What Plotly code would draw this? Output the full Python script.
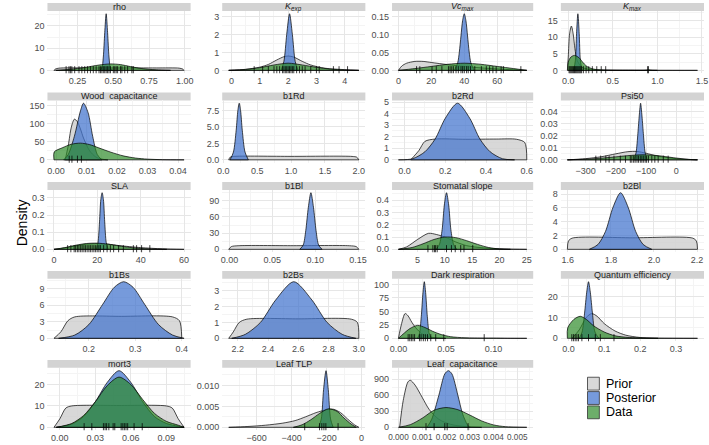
import plotly.graph_objects as go

# ---------------- data ----------------
TITLES = ["rho", "<i>K<sub>exp</sub></i>", "<i>Vc<sub>max</sub></i>", "<i>K<sub>max</sub></i>",
          "Wood  capacitance", "b1Rd", "b2Rd", "Psi50",
          "SLA", "b1Bl", "Stomatal slope", "b2Bl",
          "b1Bs", "b2Bs", "Dark respiration", "Quantum efficiency",
          "mort3", "Leaf TLP", "Leaf  capacitance"]

rho_prior = [(0.085,0),(0.095,0.6),(0.12,1.0),(0.3,1.1),(0.55,1.1),(0.8,1.1),(0.96,1.0),(0.985,0.6),(0.995,0)]
rho_post = [(0.405,0),(0.42,1),(0.43,6),(0.44,17),(0.45,25.5),(0.46,17),(0.47,6),(0.48,1),(0.495,0)]
rho_data = [(0.1,0),(0.2,0.5),(0.3,1.3),(0.4,2.4),(0.48,2.9),(0.55,2.6),(0.62,1.7),(0.7,0.8),(0.8,0.25),(0.9,0)]
rho_rug = [0.17,0.19,0.2,0.21,0.23,0.26,0.28,0.3,0.32,0.34,0.36,0.38,0.4,0.41,0.42,0.43,0.44,0.45,0.46,
           0.47,0.48,0.5,0.51,0.52,0.53,0.55,0.56,0.58,0.6,0.63,0.64]

kexp_prior = [(-0.1,0),(0.5,0.06),(1.0,0.18),(1.3,0.33),(1.6,0.58),(1.85,0.76),(2.0,0.8),(2.2,0.74),(2.5,0.5),
              (2.8,0.3),(3.3,0.12),(4.0,0.04),(4.5,0)]
kexp_post = [(1.75,0),(1.85,0.5),(1.95,2.0),(2.05,3.15),(2.15,2.0),(2.25,0.5),(2.35,0)]
kexp_data = [(-0.1,0),(0.5,0.05),(1.0,0.15),(1.5,0.3),(2.0,0.4),(2.5,0.3),(3.0,0.17),(3.5,0.07),(4.0,0.02),(4.5,0)]
kexp_rug = [0.8,1.1,1.3,1.5,1.6,1.7,1.8,1.85,1.9,1.95,2.0,2.05,2.1,2.15,2.2,2.3,2.4,2.5,2.6,2.8,3.0,3.1,3.6,3.8,4.1]

vc_prior = [(0,0),(2,0.012),(5,0.02),(10,0.025),(15,0.025),(20,0.022),(30,0.016),(40,0.011),(50,0.007),
            (60,0.004),(70,0.0015),(78,0)]
vc_post = [(34,0),(36,0.021),(37,0.051),(38,0.096),(39,0.139),(40,0.158),(41,0.139),(42,0.096),(43,0.051),
           (44,0.021),(46,0)]
vc_data = [(0,0),(10,0.005),(20,0.011),(30,0.017),(40,0.02),(50,0.017),(60,0.011),(70,0.005),(78,0)]
vc_rug = [11,13,20.4,23,26.4,30.4,31.4,32.4,33.4,35,36.4,38,39,40,41.4,42.4,43.8,46.4,50.4,53.4,55.4,57.4,
          59.4,62.4,63.8,74.4]

kmax_prior = [(-0.01,0),(0.0,4),(0.015,11),(0.035,13.3),(0.055,11),(0.075,6.5),(0.1,3),(0.15,1),(0.25,0.25),
              (0.5,0.06),(1.0,0.015),(1.45,0)]
kmax_post = [(0.06,0),(0.08,3),(0.093,11),(0.108,17),(0.123,11),(0.136,3),(0.156,0)]
kmax_data = [(-0.005,0),(0.0,2.5),(0.03,4.0),(0.07,4.5),(0.12,3.8),(0.17,2.2),(0.22,1.0),(0.3,0.3),(0.45,0.05),
             (0.7,0.02),(0.86,0.03),(0.9,0.15),(0.94,0.03),(1.0,0)]
kmax_rug = [0.01,0.02,0.03,0.04,0.05,0.06,0.07,0.08,0.09,0.1,0.11,0.12,0.13,0.14,0.15,0.17,0.2,0.23,0.27,
            0.32,0.37,0.42,0.89,0.9]

wood_prior = [(0.003,0),(0.004,40),(0.005,90),(0.006,112),(0.007,105),(0.008,85),(0.009,60),(0.011,25),
              (0.013,8),(0.015,2),(0.017,0)]
wood_post = [(0.0025,0),(0.004,15),(0.006,65),(0.008,135),(0.009,156),(0.0105,130),(0.012,65),(0.0135,15),(0.015,0)]
wood_data = [(-0.0007,0),(-0.0006,22),(0.002,33),(0.005,43),(0.008,46),(0.011,42),(0.014,33),(0.018,21),
             (0.022,11),(0.026,5),(0.03,2),(0.035,0.5),(0.042,0)]
wood_rug = [0.0043,0.0052,0.0070,0.0083]

b1rd_prior = [(0.08,0),(0.1,0.4),(0.15,0.52),(1.0,0.53),(1.9,0.52),(1.97,0.4),(2.0,0)]
b1rd_post = [(0.1,0),(0.15,1.2),(0.19,4.5),(0.215,7.5),(0.235,8.6),(0.255,7.5),(0.28,4.5),(0.32,1.2),(0.37,0)]

b2rd_prior = [(0.03,0),(0.07,0.8),(0.1,1.6),(0.15,1.8),(0.3,1.78),(0.45,1.8),(0.55,1.78),(0.59,1.5),(0.6,0)]
b2rd_post = [(-0.03,0),(0.04,0.1),(0.1,0.7),(0.15,1.8),(0.2,3.6),(0.26,4.9),(0.32,3.6),(0.37,1.8),(0.42,0.7),
             (0.48,0.1),(0.54,0)]

psi_prior = [(-360,0),(-300,0.001),(-250,0.0025),(-200,0.005),(-160,0.0068),(-130,0.007),(-100,0.0055),
             (-60,0.003),(0,0.001),(70,0)]
psi_post = [(-140,0),(-133,0.006),(-127,0.022),(-122,0.038),(-118,0.047),(-114,0.038),(-109,0.022),(-103,0.006),(-96,0)]
psi_data = [(-360,0),(-280,0.0008),(-220,0.002),(-160,0.0035),(-110,0.0042),(-60,0.0035),(-10,0.0018),(40,0.0004),(70,0)]
psi_rug = [-266,-250,-233,-222,-206,-185,-168,-152,-147,-141,-136,-130,-125,-119,-114,-109,-103,-98,-92,
           -81,-71,-60,-43,-27]

sla_prior = [(0,0),(5,0.008),(10,0.02),(15,0.03),(20,0.033),(25,0.03),(30,0.022),(40,0.01),(50,0.003),(60,0)]
sla_post = [(19.5,0),(20.3,0.04),(21,0.16),(21.6,0.29),(22.2,0.33),(22.8,0.29),(23.4,0.16),(24.1,0.04),(25,0)]
sla_data = [(0,0),(5,0.01),(10,0.024),(15,0.034),(20,0.036),(25,0.03),(30,0.02),(35,0.011),(40,0.005),(47,0.001),(52,0)]
sla_rug = [6.3,7.8,9.3,10,10.8,11.5,12.3,13,13.8,14.5,15.3,16.1,16.8,17.6,18.4,19.1,19.9,20.7,21.4,22.9,
           24.5,26,27.5,29.8,32,36.6,38.1,40.4,44.2]

b1bl_prior = [(-0.001,0),(0.002,5),(0.01,6.7),(0.075,6.8),(0.14,6.7),(0.148,5),(0.151,0)]
b1bl_post = [(0.082,0),(0.086,8),(0.089,35),(0.092,78),(0.095,105),(0.098,78),(0.101,35),(0.104,8),(0.108,0)]

ss_prior = [(1.5,0),(3,0.02),(5,0.08),(7,0.13),(8.5,0.12),(10,0.1),(12,0.06),(14,0.03),(17,0.012),(21,0.003),(25,0)]
ss_post = [(8.4,0),(9.0,0.04),(9.5,0.16),(9.9,0.36),(10.3,0.46),(10.7,0.36),(11.1,0.16),(11.6,0.04),(12.2,0)]
ss_data = [(1.5,0),(4,0.015),(6,0.045),(8,0.08),(10,0.1),(12,0.095),(14,0.07),(16,0.04),(18,0.015),(20,0.003),(22,0)]
ss_rug = [6.9,7.8,8.1,8.3,8.6,10.3,11.2,11.9,12.9,13.5,15.1]

b2bl_prior = [(1.598,0),(1.603,1.2),(1.62,1.62),(1.9,1.67),(2.18,1.62),(2.197,1.2),(2.202,0)]
b2bl_post = [(1.7,0),(1.74,0.7),(1.775,2.6),(1.81,6.1),(1.845,8.2),(1.88,6.1),(1.915,2.6),(1.95,0.7),(1.99,0)]

b1bs_prior = [(0.125,0),(0.14,1.2),(0.155,3.2),(0.17,3.9),(0.27,4.0),(0.38,3.9),(0.395,3.2),(0.4,0)]
b1bs_post = [(0.135,0),(0.17,0.6),(0.2,2.5),(0.23,6.2),(0.255,9.3),(0.275,10.3),(0.295,9.3),(0.32,6.2),
             (0.35,2.5),(0.38,0.6),(0.405,0)]

b2bs_prior = [(2.14,0),(2.17,0.4),(2.21,1.0),(2.26,1.2),(2.6,1.22),(2.95,1.2),(2.99,1.0),(3.0,0)]
b2bs_post = [(2.16,0),(2.25,0.25),(2.35,1.0),(2.45,2.4),(2.57,3.55),(2.69,2.4),(2.79,1.0),(2.89,0.25),(2.98,0)]

dr_prior = [(0.0,0),(0.003,25),(0.007,46),(0.01,42),(0.014,30),(0.018,20),(0.025,8),(0.035,2),(0.05,0)]
dr_post = [(0.02,0),(0.022,8),(0.024,40),(0.0258,85),(0.0272,105),(0.0286,85),(0.0304,40),(0.0325,8),(0.035,0)]
dr_data = [(0.0,0),(0.005,8),(0.012,18),(0.02,24),(0.028,20),(0.036,13),(0.045,7),(0.055,3),(0.07,1),
           (0.09,0.4),(0.1,0.4),(0.115,0.1),(0.135,0)]
dr_rug = [0.0102,0.0119,0.0136,0.0153,0.017,0.0221,0.0238,0.0262,0.0283,0.0306,0.034,0.0392,0.0477,0.0902]

qe_prior = [(0.01,0),(0.03,4),(0.05,10),(0.065,11.8),(0.08,10.5),(0.1,7),(0.13,3.5),(0.16,1.5),(0.2,0.4),(0.25,0)]
qe_post = [(0.03,0),(0.038,3),(0.045,12),(0.051,22),(0.056,27),(0.061,22),(0.067,12),(0.074,3),(0.085,0)]
qe_data = [(-0.003,0),(-0.002,5),(0.015,9),(0.033,10.5),(0.05,9),(0.07,6),(0.1,3),(0.13,1.2),(0.17,0.4),
           (0.25,0.1),(0.36,0)]
qe_rug = [0.0094,0.014,0.0188,0.0235,0.028,0.0375,0.056,0.075,0.089,0.127]

m3_prior = [(-0.005,0),(0.0,4),(0.005,9),(0.01,10),(0.05,10.2),(0.09,10),(0.095,9),(0.1,4),(0.105,0)]
m3_post = [(-0.003,0),(0.01,1.5),(0.02,5),(0.03,12),(0.04,21),(0.05,26.5),(0.06,21),(0.07,12),(0.08,5),
           (0.09,1.8),(0.1,0.5),(0.105,0)]
m3_data = [(-0.003,0),(0.01,1.8),(0.02,5.5),(0.03,12),(0.04,19.5),(0.05,23.5),(0.06,20),(0.07,13),(0.08,6.5),
           (0.09,2.8),(0.1,1),(0.105,0)]
m3_rug = [0.0205,0.027,0.0368,0.0382,0.0395,0.0414,0.045,0.0464,0.0518,0.0532,0.0545,0.0559,0.0573,0.0627,0.0696]

tlp_prior = [(-760,0),(-650,0.0002),(-550,0.0005),(-450,0.001),(-380,0.0016),(-320,0.0025),(-260,0.0035),
             (-200,0.0042),(-160,0.0043),(-120,0.0035),(-80,0.002),(-40,0.0006),(-15,0)]
tlp_post = [(-245,0),(-230,0.002),(-217,0.009),(-203,0.0135),(-190,0.009),(-177,0.002),(-162,0)]
tlp_data = [(-390,0),(-340,0.0006),(-290,0.0018),(-240,0.0033),(-190,0.0044),(-140,0.0038),(-100,0.0022),
            (-60,0.0008),(-30,0)]
tlp_rug = [-325,-240,-227,-215,-204,-134]

lc_prior = [(0.00005,0),(0.0002,500),(0.0004,850),(0.0005,880),(0.0007,790),(0.001,560),(0.0013,330),
            (0.0017,150),(0.0022,55),(0.0028,15),(0.0035,0)]
lc_post = [(0.0012,0),(0.0014,150),(0.0017,600),(0.00195,1000),(0.0021,1060),(0.00225,1000),(0.0025,600),
           (0.0027,250),(0.0029,50),(0.003,0)]
lc_data = [(0.0,0),(0.0005,50),(0.001,170),(0.0015,320),(0.002,370),(0.0025,330),(0.003,230),(0.0035,120),
           (0.004,45),(0.0045,12),(0.0054,0)]
lc_rug = [0.00116,0.0015,0.00195,0.00205,0.00293]

# tick values per panel (x, y) and label formats
X_TICKS = [[0.25,0.5,0.75,1.0],[0,1,2,3,4],[0,20,40,60],[0,0.5,1.0,1.5],
           [0,0.01,0.02,0.03,0.04],[0,0.5,1.0,1.5,2.0],[0,0.2,0.4,0.6],[-300,-200,-100,0],
           [0,20,40,60],[0,0.05,0.10,0.15],[5,10,15,20,25],[1.6,1.8,2.0,2.2],
           [0.2,0.3,0.4],[2.2,2.4,2.6,2.8,3.0],[0,0.05,0.10],[0,0.1,0.2,0.3],
           [0,0.03,0.06,0.09],[-600,-400,-200,0],[0,0.001,0.002,0.003,0.004,0.005]]
X_FMT = [".2f","d","d",".1f",".2f",".1f",".1f","d","d",".2f","d",".1f",".1f",".1f",".2f",".1f",".2f","d",".3f"]
Y_TICKS = [[0,10,20],[0,1,2,3],[0,0.05,0.10,0.15],[0,5,10,15],
           [0,50,100,150],[0,2.5,5,7.5],[0,1,2,3,4,5],[0,0.01,0.02,0.03,0.04],
           [0,0.1,0.2,0.3],[0,30,60,90],[0,0.1,0.2,0.3,0.4],[0,2,4,6,8],
           [0,3,6,9],[0,1,2,3],[0,25,50,75,100],[0,10,20],
           [0,10,20],[0,0.005,0.010],[0,300,600,900]]
Y_FMT = ["d","d",".2f","d","d",".1f","d",".2f",".1f","d",".1f","d","d","d","d","d","d",".3f","d"]

PRIORS = [rho_prior,kexp_prior,vc_prior,kmax_prior,wood_prior,b1rd_prior,b2rd_prior,psi_prior,sla_prior,
          b1bl_prior,ss_prior,b2bl_prior,b1bs_prior,b2bs_prior,dr_prior,qe_prior,m3_prior,tlp_prior,lc_prior]
POSTS = [rho_post,kexp_post,vc_post,kmax_post,wood_post,b1rd_post,b2rd_post,psi_post,sla_post,
         b1bl_post,ss_post,b2bl_post,b1bs_post,b2bs_post,dr_post,qe_post,m3_post,tlp_post,lc_post]
DATAS = [rho_data,kexp_data,vc_data,kmax_data,wood_data,None,None,psi_data,sla_data,
         None,ss_data,None,None,None,dr_data,qe_data,m3_data,tlp_data,lc_data]
RUGS = [rho_rug,kexp_rug,vc_rug,kmax_rug,wood_rug,None,None,psi_rug,sla_rug,
        None,ss_rug,None,None,None,dr_rug,qe_rug,m3_rug,tlp_rug,lc_rug]

LEGEND_LABELS = ["Prior", "Posterior", "Data"]

# ---------------- styling / layout ----------------
W, H = 709, 445
COL_X = [(43, 188), (220, 365), (392, 535), (563, 708)]
ROW_TOP = [0, 90.5, 181, 271, 361]
STRIP_H = 8
PLOT_H = 63
FILLS = ["rgba(205,205,205,0.78)", "rgba(65,115,205,0.72)", "rgba(40,135,35,0.68)"]
FONT = "Liberation Sans, Arial, Helvetica, sans-serif"

fig = go.Figure()
layout = dict(width=W, height=H, margin=dict(l=0, r=0, t=0, b=0),
              paper_bgcolor="white", plot_bgcolor="white", showlegend=False,
              font=dict(family=FONT, size=9, color="#4d4d4d"))
shapes, annotations = [], []


def fmt(v, f):
    if f == "d":
        s = "%d" % round(v)
    else:
        s = format(v, f)
    return s.replace("-", "\u2212")


def minor_vals(ticks, lo, hi):
    out = []
    if len(ticks) < 2:
        return out
    step = ticks[1] - ticks[0]
    t = ticks[0] - step / 2
    while t <= hi:
        if t >= lo:
            out.append(t)
        t += step
    return out


for i in range(len(TITLES)):
    r, c = divmod(i, 4)
    n = i + 1
    xa, ya = ("x", "y") if n == 1 else (f"x{n}", f"y{n}")
    curves = [PRIORS[i], POSTS[i], DATAS[i]]
    allx = [p[0] for cv in curves if cv for p in cv]
    ally = [p[1] for cv in curves if cv for p in cv]
    x0, x1 = min(allx), max(allx)
    span = x1 - x0
    xr = [x0 - 0.05 * span, x1 + 0.05 * span]
    ymax = max(ally)
    yr = [-0.05 * ymax, 1.05 * ymax]

    for k, cv in enumerate(curves):
        if not cv:
            continue
        xs = [p[0] for p in cv]
        ys = [p[1] for p in cv]
        fig.add_trace(go.Scatter(x=xs, y=ys, mode="lines", fill="toself", fillcolor=FILLS[k],
                                 line=dict(color="black", width=0.7, shape="spline", smoothing=0.8),
                                 xaxis=xa, yaxis=ya, hoverinfo="skip"))
        fig.add_trace(go.Scatter(x=[xs[0], xs[-1]], y=[0, 0], mode="lines",
                                 line=dict(color="black", width=0.7), xaxis=xa, yaxis=ya, hoverinfo="skip"))
    if RUGS[i]:
        fig.add_trace(go.Scatter(x=RUGS[i], y=[0] * len(RUGS[i]), mode="markers",
                                 marker=dict(symbol="line-ns", size=6, line=dict(color="black", width=0.75)),
                                 xaxis=xa, yaxis=ya, hoverinfo="skip"))

    L, R = COL_X[c]
    top = ROW_TOP[r] + STRIP_H
    bot = top + PLOT_H
    xt, yt = X_TICKS[i], Y_TICKS[i]
    xfs = 8.2 if X_FMT[i] == ".3f" else 9
    layout["xaxis" if n == 1 else f"xaxis{n}"] = dict(
        domain=[L / W, R / W], anchor=ya, range=xr, tickmode="array", tickvals=xt,
        ticktext=[fmt(v, X_FMT[i]) for v in xt], showgrid=True, gridcolor="#e6e6e6", gridwidth=0.6,
        zeroline=False, showline=False, ticks="", ticklabelstandoff=1, tickangle=0,
        ticklabeloverflow="allow",
        minor=dict(tickmode="array", tickvals=minor_vals(xt, xr[0], xr[1]), showgrid=True,
                   gridcolor="#f4f4f4", gridwidth=0.5, ticks=""),
        tickfont=dict(size=xfs, color="#4d4d4d"))
    layout["yaxis" if n == 1 else f"yaxis{n}"] = dict(
        domain=[1 - bot / H, 1 - top / H], anchor=xa, range=yr, tickmode="array", tickvals=yt,
        ticktext=[fmt(v, Y_FMT[i]) for v in yt], showgrid=True, gridcolor="#e6e6e6", gridwidth=0.6,
        zeroline=False, showline=False, ticks="", ticklabelstandoff=2,
        minor=dict(tickmode="array", tickvals=minor_vals(yt, yr[0], yr[1]), showgrid=True,
                   gridcolor="#f4f4f4", gridwidth=0.5, ticks=""),
        tickfont=dict(size=9, color="#4d4d4d"))

    shapes.append(dict(type="rect", xref="paper", yref="paper", x0=L / W, x1=R / W,
                       y0=1 - top / H, y1=1 - ROW_TOP[r] / H, fillcolor="#d3d3d3", line=dict(width=0),
                       layer="below"))
    annotations.append(dict(text=TITLES[i], xref="paper", yref="paper", x=(L + R) / 2 / W,
                            y=1 - (ROW_TOP[r] + STRIP_H / 2) / H, showarrow=False, xanchor="center",
                            yanchor="middle", font=dict(size=9, color="#1a1a1a", family=FONT)))

# y-axis title
annotations.append(dict(text="Density", xref="paper", yref="paper", x=17 / W, y=1 - 222 / H, textangle=-90,
                        showarrow=False, xanchor="center", yanchor="middle",
                        font=dict(size=14, color="black", family=FONT)))

# legend (manual keys)
for k, lab in enumerate(LEGEND_LABELS):
    ytop = 378.5 + k * 14.5
    shapes.append(dict(type="rect", xref="paper", yref="paper", x0=590 / W, x1=602 / W,
                       y0=1 - (ytop + 13) / H, y1=1 - ytop / H, fillcolor=FILLS[k],
                       line=dict(color="#333333", width=0.8)))
    annotations.append(dict(text=lab, xref="paper", yref="paper", x=607 / W, y=1 - (ytop + 6.5) / H,
                            showarrow=False, xanchor="left", yanchor="middle",
                            font=dict(size=12.5, color="black", family=FONT)))

layout["shapes"] = shapes
layout["annotations"] = annotations
fig.update_layout(**layout)
fig.write_html("out.html", config={"displayModeBar": False},
               post_script="document.body.style.margin='0px';")
